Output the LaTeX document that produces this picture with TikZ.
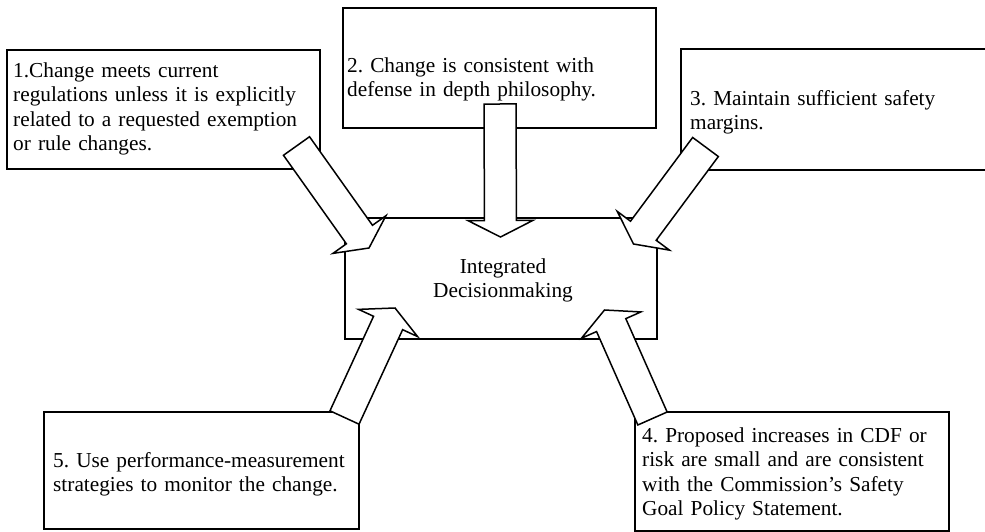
\documentclass[tikz,border=0pt]{standalone}
\usepackage{fontspec}
\setmainfont{Liberation Serif}
\usetikzlibrary{calc}
\frenchspacing

% hollow block arrow: shaft half-width, head half-width, head length
\newcommand{\arrowshaft}{16pt}
\newcommand{\arrowhead}{32.5pt}
\newcommand{\arrowheadlen}{16.5pt}
% \blockarrow{tail}{tip}
\newcommand{\blockarrow}[2]{%
  \coordinate (#1base) at ($(#2)!\arrowheadlen!(#1)$);
  \draw[blockarrow]
    ($(#1)!\arrowshaft!90:(#2)$) -- ($(#1base)!\arrowshaft!90:(#2)$)
    -- ($(#1base)!\arrowhead!90:(#2)$) -- (#2)
    -- ($(#1base)!\arrowhead!-90:(#2)$) -- ($(#1base)!\arrowshaft!-90:(#2)$)
    -- ($(#1)!\arrowshaft!-90:(#2)$) -- cycle;}

\begin{document}
\begin{tikzpicture}[x=1pt,y=-1pt,
  box/.style={draw, line width=1.5pt, inner sep=0pt, outer sep=0pt, anchor=north west},
  blockarrow/.style={draw, fill=white, line width=1.5pt, line join=miter},
  boxtext/.style={inner sep=0pt, anchor=north west, align=left, text width=330pt,
    font=\fontsize{21.3}{24.5}\selectfont\frenchspacing}]

\clip (0,0) rectangle (985,532);
\fill[white] (0,0) rectangle (985,532);

% boxes
\node[box, minimum width=313, minimum height=119] (box1) at (7,50) {};
\node[box, minimum width=313, minimum height=120] (box2) at (343,8) {};
\node[box, minimum width=309, minimum height=121] (box3) at (681,49) {};
\node[box, minimum width=312, minimum height=121] (centre) at (345,218) {};
\node[box, minimum width=314, minimum height=119] (box4) at (635,412) {};
\node[box, minimum width=315, minimum height=117] (box5) at (44,412) {};

% arrow ends
\coordinate (a1tail) at (296.5,146);
\coordinate (a1tip)  at (369,248);
\coordinate (a2tail) at (500,104);
\coordinate (a2tip)  at (500.5,237);
\coordinate (a3tail) at (705.5,147);
\coordinate (a3tip)  at (633.5,244);
\coordinate (a4tail) at (652.5,418.5);
\coordinate (a4tip)  at (604.5,310);
\coordinate (a5tail) at (344.5,417.5);
\coordinate (a5tip)  at (395,308);

\blockarrow{a1tail}{a1tip}
\blockarrow{a2tail}{a2tip}
\blockarrow{a3tail}{a3tip}
\blockarrow{a4tail}{a4tip}
\blockarrow{a5tail}{a5tip}

% texts
\node[boxtext] (t1) at (13,60) {\strut 1.Change meets current\\regulations unless it is explicitly\\related to a requested exemption\\or rule changes.};
\node[boxtext] (t2) at (347,55) {\strut 2. Change is consistent with\\defense in depth philosophy.};
\node[boxtext] (t3) at (690,88) {\strut 3. Maintain sufficient safety\\margins.};
\node[boxtext] (t4) at (642,425) {\strut 4. Proposed increases in CDF or\\risk are small and are consistent\\with the Commission’s Safety\\Goal Policy Statement.};
\node[boxtext] (t5) at (53,450) {\strut 5. Use performance-measurement\\strategies to monitor the change.};
\node[boxtext, anchor=north, align=center, text width=300pt] (tc) at (503,256) {\strut Integrated\\Decisionmaking};
\end{tikzpicture}
\end{document}
